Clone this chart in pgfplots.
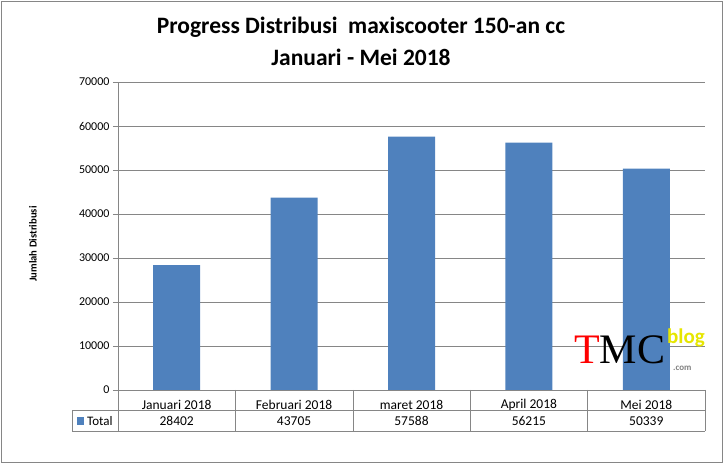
\documentclass[border=0pt]{standalone}
\usepackage{fontspec}
\setmainfont{Carlito}
\newfontfamily\seriflogo{Liberation Serif}
\usepackage{pgfplots}
\pgfplotsset{compat=1.18}
\definecolor{barblue}{HTML}{4F81BD}
\definecolor{gridgray}{HTML}{868686}
\definecolor{logoyellow}{HTML}{E6E600}
\begin{document}
\begin{tikzpicture}[x=1pt,y=1pt]
\useasboundingbox (0,0) rectangle (724,-465);
\draw[gridgray, line width=0.8pt] (1,-1) rectangle (722,-462);
% title
\node[font=\fontsize{23.5}{26}\selectfont\bfseries] at (361,-27) {Progress Distribusi\ \ maxiscooter 150-an cc};
\node[font=\fontsize{23.5}{26}\selectfont\bfseries] at (361,-57) {Januari - Mei 2018};
% y label
\node[rotate=90, font=\fontsize{10.6}{12}\selectfont\bfseries] at (33,-244) {Jumlah Distribusi};
\begin{axis}[
  at={(118pt,-390pt)}, anchor=south west,
  scale only axis, width=587pt, height=308pt,
  xmin=-0.5, xmax=4.5, ymin=0, ymax=70000,
  ytick={0,10000,...,70000},
  xtick={0,1,2,3,4},
  xticklabels={Januari 2018, Februari 2018, maret 2018, April 2018, Mei 2018},
  xticklabel style={anchor=center, yshift=-10pt, font=\fontsize{13.5}{15}\selectfont},
  x tick style={draw=none},
  y tick style={gridgray},
  tick align=outside, major tick length=5pt,
  axis x line*=bottom, axis y line*=left,
  axis line style={gridgray, -},
  ymajorgrids, grid style={gridgray, line width=0.6pt},
  scaled y ticks=false,
  yticklabel style={font=\fontsize{12}{13}\selectfont, /pgf/number format/assume math mode=true, /pgf/number format/set thousands separator={}, /pgf/number format/fixed},
  clip=false,
]
\addplot[ybar, bar width=47pt, fill=barblue, draw=none] coordinates {(0,28402)(1,43705)(2,57588)(3,56215)(4,50339)};
\node[font=\fontsize{13.5}{15}\selectfont] at (axis cs:0,0) [yshift=-31pt] {28402};
\node[font=\fontsize{13.5}{15}\selectfont] at (axis cs:1,0) [yshift=-31pt] {43705};
\node[font=\fontsize{13.5}{15}\selectfont] at (axis cs:2,0) [yshift=-31pt] {57588};
\node[font=\fontsize{13.5}{15}\selectfont] at (axis cs:3,0) [yshift=-31pt] {56215};
\node[font=\fontsize{13.5}{15}\selectfont] at (axis cs:4,0) [yshift=-31pt] {50339};
\end{axis}
% table lines
\draw[gridgray, line width=0.6pt] (72,-410.5) -- (705,-410.5);
\draw[gridgray, line width=0.6pt] (72,-431) -- (705,-431);
\draw[gridgray, line width=0.6pt] (72,-410.5) -- (72,-431);
\foreach \k in {0,...,5} {\draw[gridgray, line width=0.6pt] ({118+117.4*\k},-390) -- ({118+117.4*\k},-431);}
\fill[barblue] (77,-417) rectangle (84,-425);
\node[anchor=west, inner sep=0pt, font=\fontsize{13}{14}\selectfont] at (87,-421) {Total};
% watermark logo
\node[anchor=base west, inner sep=0pt, font=\fontsize{42}{42}\seriflogo] at (574,-364) {\textcolor{red}{T}\textcolor{black}{MC}};
\node[anchor=base west, inner sep=0pt, font=\fontsize{21}{21}\selectfont\bfseries, text=logoyellow] at (667,-344) {blog};
\node[anchor=base west, inner sep=0pt, font=\fontsize{9}{9}\selectfont\bfseries, text=gray] at (673,-371) {.com};
\end{tikzpicture}
\end{document}
